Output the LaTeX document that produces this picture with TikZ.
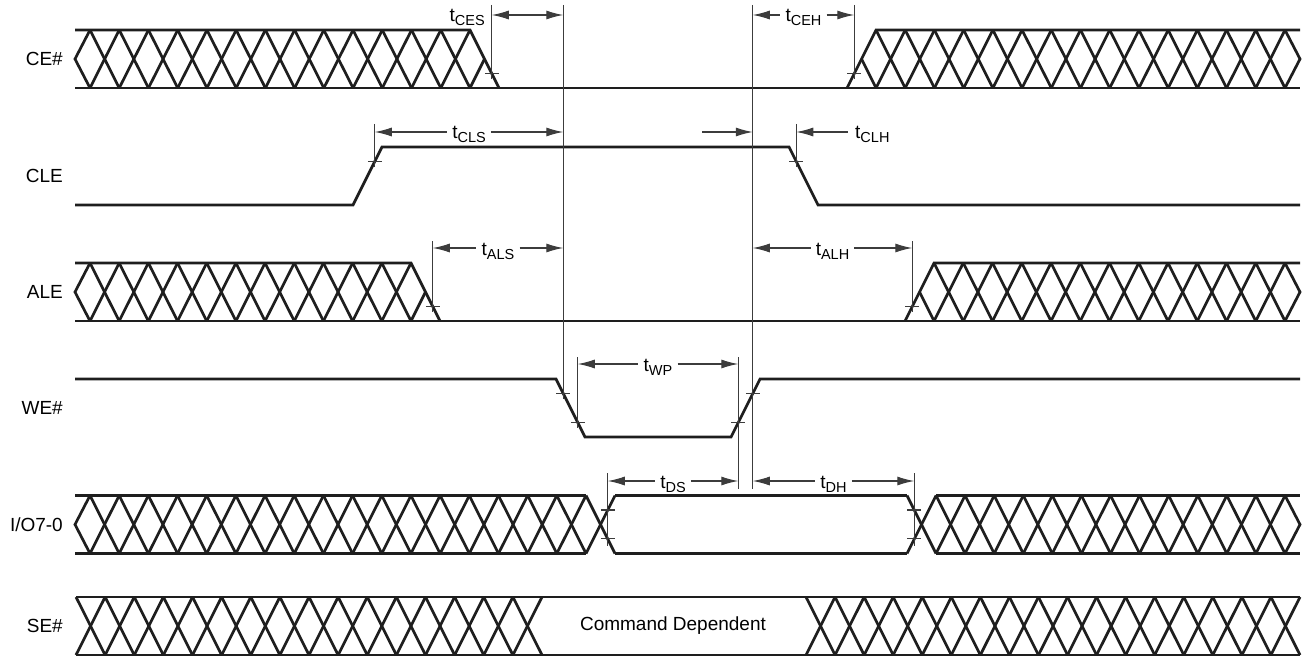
\documentclass[tikz,border=0pt]{standalone}
\usepackage{fontspec}
\setmainfont{Liberation Sans}
\usepackage{xcolor}
\definecolor{sigblack}{RGB}{30,30,30}
\definecolor{timgray}{RGB}{60,60,60}
\usetikzlibrary{arrows.meta, calc}

% t con subíndice
\newcommand{\tsub}[1]{t\raisebox{-4pt}{\fontsize{14.5}{15}\selectfont #1}}

% celdas cruzadas de un bus: x inicial, x final, número de celdas
\newcommand{\hatch}[3]{%
  \pgfmathsetmacro{\hcw}{(#2-#1)/#3}%
  \foreach \k in {1,...,#3}{%
    \draw[sig] ({#1+(\k-1)*\hcw},0) -- ({#1+\k*\hcw},58);
    \draw[sig] ({#1+(\k-1)*\hcw},58) -- ({#1+\k*\hcw},0);
  }}

% marca sobre un flanco
\newcommand{\tick}[2]{\draw[tline] ({#1-7},#2) -- ({#1+7},#2);}

% cota con texto en medio: nombre, x1, x2, y, subíndice
\newcommand{\tspan}[5]{%
  \node[tlab] (#1) at ({(#2+#3)/2},{#4+7}) {\tsub{#5}};
  \coordinate (#1L) at (#2,#4);
  \coordinate (#1R) at (#3,#4);
  \draw[arr, <-] (#1L) -- (#1L -| #1.west);
  \draw[arr, ->] (#1R -| #1.east) -- (#1R);
}

\begin{document}
\begin{tikzpicture}[
    x=1pt, y=-1pt,
    >={Latex[length=17pt, width=9pt]},
    sig/.style={line width=2.7pt, sigblack},
    tline/.style={line width=1.1pt, timgray},
    arr/.style={line width=1.1pt, timgray},
    siglabel/.style={anchor=east, inner sep=0pt, font=\fontsize{19}{22}\selectfont},
    tlab/.style={anchor=base, inner xsep=5pt, inner ysep=0pt, font=\fontsize{19}{22}\selectfont}
]
\useasboundingbox (0,0) rectangle (1309,658);

% CE#
\begin{scope}[shift={(0,30)}]
    \node[siglabel] (ce) at (63,29) {CE\#};
    \draw[sig] (75,0) -- (470,0) -- (499,58);
    \draw[sig] (75,58) -- (1300,58);
    \draw[sig] (90,0) -- (75,29) -- (90,58);
    \hatch{90}{470}{13}
    \draw[sig] (470,58) -- (484.5,29);
    \draw[sig] (847,58) -- (876,0) -- (1300,0);
    \draw[sig] (876,58) -- (861.5,29);
    \hatch{876}{1285}{14}
    \draw[sig] (1285,0) -- (1300,29) -- (1285,58);
\end{scope}

% CLE
\begin{scope}[shift={(0,147)}]
    \node[siglabel] (cle) at (63,29) {CLE};
    \draw[sig] (75,58) -- (353,58) -- (382,0) -- (789,0) -- (818,58) -- (1300,58);
\end{scope}

% ALE
\begin{scope}[shift={(0,263)}]
    \node[siglabel] (ale) at (63,29) {ALE};
    \draw[sig] (75,0) -- (411,0) -- (440,58);
    \draw[sig] (75,58) -- (1300,58);
    \draw[sig] (90,0) -- (75,29) -- (90,58);
    \hatch{90}{411}{11}
    \draw[sig] (411,58) -- (425.5,29);
    \draw[sig] (905,58) -- (934,0) -- (1300,0);
    \draw[sig] (934,58) -- (919.5,29);
    \hatch{934}{1285}{12}
    \draw[sig] (1285,0) -- (1300,29) -- (1285,58);
\end{scope}

% WE#
\begin{scope}[shift={(0,379)}]
    \node[siglabel] (we) at (63,29) {WE\#};
    \draw[sig] (75,0) -- (556,0) -- (585,58) -- (731,58) -- (760,0) -- (1300,0);
\end{scope}

% I/O7-0
\begin{scope}[shift={(0,495.5)}]
    \node[siglabel] (io) at (63,29) {I/O7-0};
    \draw[sig] (75,0) -- (586,0);
    \draw[sig] (75,58) -- (586,58);
    \draw[sig] (90,0) -- (75,29) -- (90,58);
    \hatch{90}{586}{17}
    \hatch{586}{615}{1}
    \draw[sig] (615,0) -- (907,0);
    \draw[sig] (615,58) -- (907,58);
    \hatch{907}{936}{1}
    \draw[sig] (936,0) -- (1300,0);
    \draw[sig] (936,58) -- (1300,58);
    \hatch{936}{1285}{12}
    \draw[sig] (1285,0) -- (1300,29) -- (1285,58);
\end{scope}

% SE#
\begin{scope}[shift={(0,597)}]
    \node[siglabel] (se) at (63,29) {SE\#};
    \draw[sig] (76,0) -- (1300,0);
    \draw[sig] (76,58) -- (1300,58);
    \hatch{76}{542}{16}
    \hatch{806}{1300}{17}
    \node[font=\fontsize{19}{22}\selectfont] (cmd) at (673,29) {Command Dependent};
\end{scope}

% Referencias verticales
\draw[tline] (563.25,5) -- (563.25,399);
\draw[tline] (752.75,5) -- (752.75,489);

% tCES y tCEH
\draw[tline] (491.75,5) -- (491.75,79); \tick{491.75}{73.5}
\draw[tline] (854.25,5) -- (854.25,79); \tick{854.25}{73.5}
\node[tlab, anchor=base east, inner xsep=0pt] (tces) at (485,22) {\tsub{CES}};
\draw[arr, <->] (491.75,15) -- (563.25,15);
\tspan{tceh}{752.75}{854.25}{15}{CEH}

% tCLS y tCLH
\draw[tline] (374.75,124) -- (374.75,167); \tick{374.75}{161.5}
\draw[tline] (796.25,124) -- (796.25,167); \tick{796.25}{161.5}
\tspan{tcls}{374.75}{563.25}{132}{CLS}
\draw[arr, ->] (702,132) -- (752.75,132);
\draw[arr, <-] (796.25,132) -- (848,132);
\node[tlab, anchor=base west, inner xsep=0pt] (tclh) at (855,139) {\tsub{CLH}};

% tALS y tALH
\draw[tline] (432.75,241) -- (432.75,312); \tick{432.75}{306.5}
\draw[tline] (912.25,241) -- (912.25,312); \tick{912.25}{306.5}
\tspan{tals}{432.75}{563.25}{248}{ALS}
\tspan{talh}{752.75}{912.25}{248}{ALH}

% tWP
\draw[tline] (577.75,357) -- (577.75,428); \tick{563.25}{393.5} \tick{577.75}{422.5}
\draw[tline] (738.25,357) -- (738.25,489); \tick{738.25}{422.5} \tick{752.75}{393.5}
\tspan{twp}{577.75}{738.25}{364}{WP}

% tDS y tDH
\draw[tline] (607.75,473) -- (607.75,546); \tick{607.75}{510} \tick{607.75}{538.5}
\draw[tline] (914.25,473) -- (914.25,546); \tick{914.25}{510} \tick{914.25}{538.5}
\tspan{tds}{607.75}{738.25}{481}{DS}
\tspan{tdh}{752.75}{914.25}{481}{DH}

\end{tikzpicture}
\end{document}
